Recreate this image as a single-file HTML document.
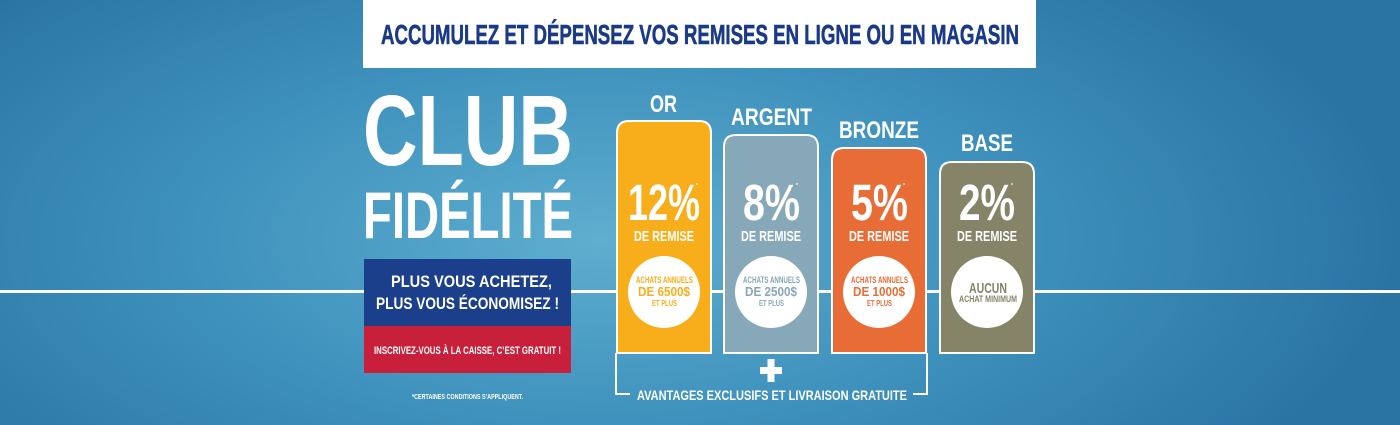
<!DOCTYPE html>
<html><head><meta charset="utf-8"><style>
html,body{margin:0;padding:0;width:1400px;height:425px;overflow:hidden}
svg{display:block}
text{font-family:"Liberation Sans",sans-serif;font-weight:bold}
</style></head><body>
<svg width="1400" height="425" viewBox="0 0 1400 425" xmlns="http://www.w3.org/2000/svg">
<defs>
<radialGradient id="bg" cx="600" cy="240" r="800" gradientUnits="userSpaceOnUse" gradientTransform="translate(600 240) scale(1 0.45) translate(-600 -240)">
<stop offset="0" stop-color="#5eaecf"/><stop offset="0.5" stop-color="#3f92bd"/><stop offset="1" stop-color="#2a74a4"/>
</radialGradient>
</defs>
<rect width="1400" height="425" fill="url(#bg)"/>
<rect x="0" y="290" width="1400" height="3" fill="#fff"/>
<rect x="363" y="0" width="673" height="68" fill="#fff"/>
<text x="381" y="44" font-size="28" fill="#1b3a86" stroke="#1b3a86" stroke-width="0.6" textLength="638" lengthAdjust="spacingAndGlyphs">ACCUMULEZ ET DÉPENSEZ VOS REMISES EN LIGNE OU EN MAGASIN</text>
<text x="363" y="165" font-size="100" fill="#fff" textLength="210" lengthAdjust="spacingAndGlyphs">CLUB</text>
<text x="363" y="238" font-size="66" fill="#fff" textLength="210" lengthAdjust="spacingAndGlyphs">FIDÉLITÉ</text>
<rect x="364" y="259" width="207" height="67" fill="#1b3f8b"/>
<rect x="364" y="326" width="207" height="47" fill="#c8203a"/>
<text x="391" y="287" font-size="17" fill="#fff" textLength="161" lengthAdjust="spacingAndGlyphs">PLUS VOUS ACHETEZ,</text>
<text x="376" y="309" font-size="17" fill="#fff" textLength="183" lengthAdjust="spacingAndGlyphs">PLUS VOUS ÉCONOMISEZ !</text>
<text x="374" y="354" font-size="11" fill="#fff" textLength="187" lengthAdjust="spacingAndGlyphs">INSCRIVEZ-VOUS À LA CAISSE, C’EST GRATUIT !</text>
<text x="412" y="399" font-size="7" fill="#fff" textLength="111" lengthAdjust="spacingAndGlyphs">*CERTAINES CONDITIONS S’APPLIQUENT.</text>
<path d="M616 353 V394 H630 M913 394 H927 V353" stroke="#fff" stroke-width="2" fill="none"/>
<rect x="760" y="367" width="22" height="7" fill="#fff"/>
<rect x="767.5" y="359" width="7" height="23" fill="#fff"/>
<text x="637" y="400" font-size="14" fill="#fff" textLength="270" lengthAdjust="spacingAndGlyphs">AVANTAGES EXCLUSIFS ET LIVRAISON GRATUITE</text>
<g stroke="#fff" stroke-width="2">
<path d="M617 353 V133 Q617 121 629 121 H699 Q711 121 711 133 V353 Z" fill="#f8ae1a"/>
<path d="M724 353 V147 Q724 135 736 135 H806 Q818 135 818 147 V353 Z" fill="#87a8b8"/>
<path d="M832 353 V160 Q832 148 844 148 H914 Q926 148 926 160 V353 Z" fill="#e86c36"/>
<path d="M940 353 V174 Q940 162 952 162 H1022 Q1034 162 1034 174 V353 Z" fill="#858468"/>
</g>
<text x="650" y="112" font-size="24" fill="#fff" textLength="27" lengthAdjust="spacingAndGlyphs">OR</text>
<text x="731" y="125" font-size="24" fill="#fff" textLength="81" lengthAdjust="spacingAndGlyphs">ARGENT</text>
<text x="839" y="138" font-size="24" fill="#fff" textLength="80" lengthAdjust="spacingAndGlyphs">BRONZE</text>
<text x="961" y="151" font-size="24" fill="#fff" textLength="52" lengthAdjust="spacingAndGlyphs">BASE</text>
<g fill="#fff" font-size="51">
<text x="628" y="220" textLength="72" lengthAdjust="spacingAndGlyphs">12%</text>
<text x="743" y="220" textLength="57" lengthAdjust="spacingAndGlyphs">8%</text>
<text x="851" y="220" textLength="57" lengthAdjust="spacingAndGlyphs">5%</text>
<text x="959" y="220" textLength="56" lengthAdjust="spacingAndGlyphs">2%</text>
</g>
<g fill="#fff" font-size="5">
<text x="696" y="187">*</text><text x="796" y="187">*</text><text x="903" y="187">*</text><text x="1011" y="187">*</text>
</g>
<g fill="#fff" font-size="15">
<text x="634" y="241" textLength="60" lengthAdjust="spacingAndGlyphs">DE REMISE</text>
<text x="741" y="241" textLength="60" lengthAdjust="spacingAndGlyphs">DE REMISE</text>
<text x="849" y="241" textLength="60" lengthAdjust="spacingAndGlyphs">DE REMISE</text>
<text x="957" y="241" textLength="60" lengthAdjust="spacingAndGlyphs">DE REMISE</text>
</g>
<g fill="#fff">
<circle cx="664" cy="292" r="36"/><circle cx="771" cy="292" r="36"/><circle cx="879" cy="292" r="36"/><circle cx="987" cy="292" r="36"/>
</g>
<g fill="#f8ae1a">
<text x="636" y="283" font-size="9" textLength="57" lengthAdjust="spacingAndGlyphs">ACHATS ANNUELS</text>
<text x="638" y="296" font-size="13" textLength="52" lengthAdjust="spacingAndGlyphs">DE 6500$</text>
<text x="652" y="306" font-size="8" textLength="25" lengthAdjust="spacingAndGlyphs">ET PLUS</text>
</g>
<g fill="#87a8b8">
<text x="743" y="283" font-size="9" textLength="57" lengthAdjust="spacingAndGlyphs">ACHATS ANNUELS</text>
<text x="745" y="296" font-size="13" textLength="52" lengthAdjust="spacingAndGlyphs">DE 2500$</text>
<text x="759" y="306" font-size="8" textLength="25" lengthAdjust="spacingAndGlyphs">ET PLUS</text>
</g>
<g fill="#e86c36">
<text x="851" y="283" font-size="9" textLength="57" lengthAdjust="spacingAndGlyphs">ACHATS ANNUELS</text>
<text x="853" y="296" font-size="13" textLength="52" lengthAdjust="spacingAndGlyphs">DE 1000$</text>
<text x="867" y="306" font-size="8" textLength="25" lengthAdjust="spacingAndGlyphs">ET PLUS</text>
</g>
<g fill="#858468">
<text x="969" y="293" font-size="15" textLength="38" lengthAdjust="spacingAndGlyphs">AUCUN</text>
<text x="959" y="302" font-size="9" textLength="58" lengthAdjust="spacingAndGlyphs">ACHAT MINIMUM</text>
</g>
</svg>
</body></html>
